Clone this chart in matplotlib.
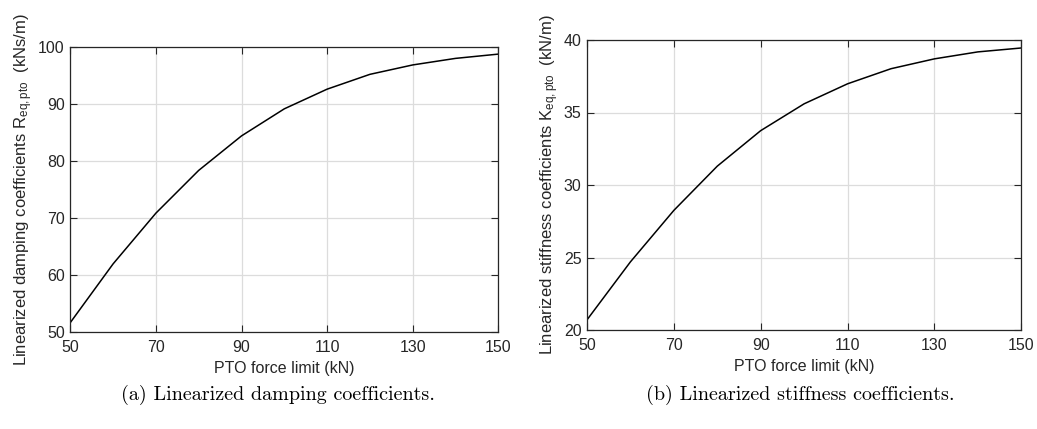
import numpy as np
import matplotlib
matplotlib.use("Agg")
import matplotlib.pyplot as plt

plt.rcParams['font.family'] = ['Liberation Sans', 'DejaVu Sans']
plt.rcParams['mathtext.fontset'] = 'custom'
plt.rcParams['mathtext.rm'] = 'Liberation Sans'
plt.rcParams['mathtext.it'] = 'Liberation Sans'

# PTO force limit (kN)
force_limit = [50, 60, 70, 80, 90, 100, 110, 120, 130, 140, 150]
# linearized damping coefficients (kNs/m)
damping = [51.6, 61.9, 70.8, 78.3, 84.35, 89.1, 92.55, 95.15, 96.8, 97.95, 98.7]
# linearized stiffness coefficients (kN/m)
stiffness = [20.7, 24.7, 28.25, 31.3, 33.75, 35.6, 36.98, 38.02, 38.7, 39.18, 39.45]

x_ticks = [50, 70, 90, 110, 130, 150]

fig = plt.figure(figsize=(10.37, 4.29), dpi=100)
W, H = 1037, 429

def make_axes(left, top, right, bottom):
    return fig.add_axes([left / W, 1 - bottom / H, (right - left) / W, (bottom - top) / H])

ax1 = make_axes(70.3, 46.7, 498.3, 331.7)
ax2 = make_axes(587, 40, 1021.3, 330)

def style(ax, ylim, yticks, ylabel):
    ax.set_xlim(50, 150)
    ax.set_ylim(*ylim)
    ax.set_xticks(x_ticks)
    ax.set_yticks(yticks)
    ax.grid(True, color='#dcdcdc', linewidth=0.9)
    ax.set_axisbelow(True)
    ax.tick_params(direction='in', top=True, right=True, length=5, width=0.8,
                   labelsize=11.5, colors='#262626', pad=4)
    ax.tick_params(axis='x', pad=6)
    for s in ax.spines.values():
        s.set_color('#262626')
        s.set_linewidth(0.9)
    ax.set_xlabel('PTO force limit (kN)', fontsize=11.5, color='#262626', labelpad=4)
    ax.set_ylabel(ylabel, fontsize=12, color='#262626', labelpad=2)

ax1.plot(force_limit, damping, color='black', linewidth=1.1)
style(ax1, (50, 100), [50, 60, 70, 80, 90, 100],
      r'Linearized damping coefficients R$_{\mathrm{eq,pto}}$  (kNs/m)')

ax2.plot(force_limit, stiffness, color='black', linewidth=1.1)
style(ax2, (20, 40), [20, 25, 30, 35, 40],
      r'Linearized stiffness coefficients K$_{\mathrm{eq,pto}}$  (kN/m)')

fig.text(278 / W, 1 - 395 / H, '(a) Linearized damping coefficients.',
         family='cmr10', fontsize=14.5, ha='center', va='center')
fig.text(800 / W, 1 - 395 / H, '(b) Linearized stiffness coefficients.',
         family='cmr10', fontsize=14.5, ha='center', va='center')

fig.savefig('out.png', dpi=100)
